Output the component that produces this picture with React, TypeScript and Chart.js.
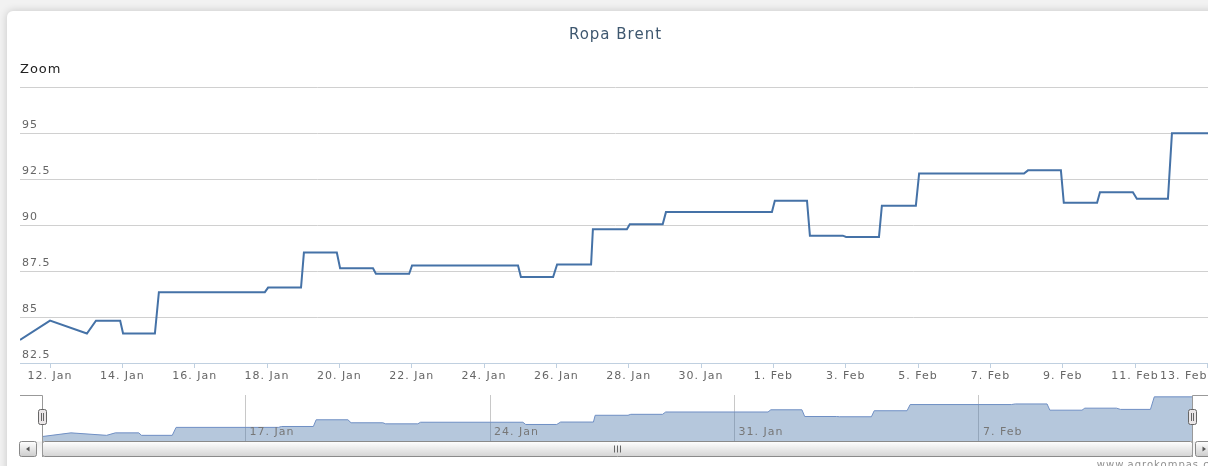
import React, { useEffect, useRef } from 'react';
import { Chart, registerables } from 'chart.js';

Chart.register(...registerables);

// Days counted from 12 Jan (00:00)
const dayOffsets = [-0.83, 0, 1.02, 1.27, 1.94, 2.02, 2.9, 3.01, 5.94, 6.03, 6.94, 7.02, 7.93, 8.02, 8.93, 9.01, 9.93, 10.01, 12.94, 13.02, 13.91, 14.02, 14.96, 15.01, 15.95, 16.03, 16.94, 17.03, 19.96, 20.04, 20.93, 21.01, 21.92, 22.01, 22.92, 23.0, 23.94, 24.03, 26.93, 27.04, 27.95, 28.03, 28.95, 29.03, 29.94, 30.05, 30.91, 31.02, 32.1];
const prices = [83.75, 84.8, 84.1, 84.8, 84.8, 84.1, 84.1, 86.35, 86.35, 86.6, 86.6, 88.5, 88.5, 87.65, 87.65, 87.35, 87.35, 87.8, 87.8, 87.17, 87.17, 87.86, 87.86, 89.77, 89.77, 90.04, 90.04, 90.7, 90.7, 91.32, 91.32, 89.42, 89.42, 89.35, 89.35, 91.05, 91.05, 92.8, 92.8, 92.97, 92.97, 91.21, 91.21, 91.78, 91.78, 91.43, 91.43, 94.98, 94.98];

const mainTickDays = [0, 2, 4, 6, 8, 10, 12, 14, 16, 18, 20, 22, 24, 26, 28, 30, 32];
const mainTickLabels = ['12. Jan', '14. Jan', '16. Jan', '18. Jan', '20. Jan', '22. Jan', '24. Jan', '26. Jan', '28. Jan', '30. Jan', '1. Feb', '3. Feb', '5. Feb', '7. Feb', '9. Feb', '11. Feb', '13. Feb'];
const navTickDays = [5, 12, 19, 26];
const navTickLabels = ['17. Jan', '24. Jan', '31. Jan', '7. Feb'];
const yTicks = [82.5, 85, 87.5, 90, 92.5, 95, 97.5];

const TITLE = 'Ropa Brent';
const ZOOM_LABEL = 'Zoom';
const CREDITS = 'www.agrokompas.cz';

const FONT = '"DejaVu Sans", Verdana, sans-serif';
const X_MIN = -0.83;
const X_MAX = 32.1;
const CW = 1230;
const NAV_TOP = 385;

function spacingPlugin(px: string) {
  return {
    id: 'spacing',
    beforeDraw(chart: any) {
      (chart.ctx as any).letterSpacing = px;
    },
  };
}

function roundRect(ctx: CanvasRenderingContext2D, x: number, y: number, w: number, h: number, r: number) {
  ctx.beginPath();
  ctx.moveTo(x + r, y);
  ctx.lineTo(x + w - r, y);
  ctx.arcTo(x + w, y, x + w, y + r, r);
  ctx.lineTo(x + w, y + h - r);
  ctx.arcTo(x + w, y + h, x + w - r, y + h, r);
  ctx.lineTo(x + r, y + h);
  ctx.arcTo(x, y + h, x, y + h - r, r);
  ctx.lineTo(x, y + r);
  ctx.arcTo(x, y, x + r, y, r);
  ctx.closePath();
}

export default function App() {
  const mainRef = useRef<HTMLCanvasElement>(null);
  const navRef = useRef<HTMLCanvasElement>(null);

  useEffect(() => {
    const points = dayOffsets.map((d, i) => ({ x: d, y: prices[i] }));

    const zoomPlugin = {
      id: 'zoomLabel',
      afterDraw(chart: any) {
        const ctx = chart.ctx as CanvasRenderingContext2D;
        ctx.save();
        (ctx as any).letterSpacing = '1px';
        ctx.font = `13px ${FONT}`;
        ctx.fillStyle = '#222';
        ctx.textAlign = 'left';
        ctx.textBaseline = 'middle';
        ctx.fillText(ZOOM_LABEL, 20, 70);
        ctx.restore();
      },
    };

    const main = new Chart(mainRef.current!, {
      type: 'line',
      data: {
        datasets: [
          {
            data: points,
            borderColor: '#4572A7',
            borderWidth: 2,
            pointRadius: 0,
            tension: 0,
            fill: false,
          },
        ],
      },
      options: {
        animation: false,
        responsive: false,
        events: [],
        layout: { padding: { left: 20, right: CW - 1211, top: 0, bottom: 7 } },
        plugins: {
          legend: { display: false },
          tooltip: { enabled: false },
          title: {
            display: true,
            text: TITLE,
            color: '#3E576F',
            font: { family: FONT, size: 15, weight: 'normal', lineHeight: 1.2 },
            padding: { top: 26, bottom: 87 - 26 - 18 },
          },
        },
        scales: {
          x: {
            type: 'linear',
            min: X_MIN,
            max: X_MAX,
            afterBuildTicks: (s: any) => {
              s.ticks = [{ value: X_MIN }, ...mainTickDays.map((v) => ({ value: v }))];
            },
            afterFit: (s: any) => {
              s.height = 20;
            },
            border: { display: true, color: '#C0D0E0', width: 1 },
            grid: {
              drawOnChartArea: false,
              drawTicks: true,
              tickLength: 5,
              tickColor: (c: any) => (c.index === 0 ? 'rgba(0,0,0,0)' : '#C0D0E0'),
            },
            ticks: {
              autoSkip: false,
              maxRotation: 0,
              align: 'inner',
              padding: 2,
              color: '#666',
              font: { family: FONT, size: 11 },
              callback: (_v: any, i: number) => (i === 0 ? '' : mainTickLabels[i - 1]),
            },
          },
          y: {
            min: 82.5,
            max: 97.5,
            afterBuildTicks: (s: any) => {
              s.ticks = yTicks.map((v) => ({ value: v }));
            },
            afterFit: (s: any) => {
              s.width = 0;
            },
            border: { display: false },
            grid: {
              drawTicks: false,
              color: (c: any) => (c.tick && c.tick.value === 82.5 ? 'rgba(0,0,0,0)' : '#D0D0D0'),
            },
            ticks: {
              mirror: true,
              padding: 2,
              labelOffset: -8,
              color: '#666',
              font: { family: FONT, size: 11 },
              callback: (v: any) => (v === 97.5 ? '' : String(v)),
            },
          },
        },
      },
      plugins: [spacingPlugin('1px'), zoomPlugin],
    } as any);

    const navDecor = {
      id: 'navDecor',
      afterDatasetsDraw(chart: any) {
        // navigator x-axis labels, placed through the library's x scale
        const ctx = chart.ctx as CanvasRenderingContext2D;
        const xs = chart.scales.x;
        ctx.save();
        (ctx as any).letterSpacing = '1px';
        ctx.font = `11px ${FONT}`;
        ctx.fillStyle = '#777';
        ctx.textAlign = 'left';
        ctx.textBaseline = 'middle';
        navTickDays.forEach((d, i) => {
          ctx.fillText(navTickLabels[i], xs.getPixelForValue(d) + 4, 432 - NAV_TOP);
        });
        ctx.restore();
      },
      afterDraw(chart: any) {
        const ctx = chart.ctx as CanvasRenderingContext2D;
        const oy = NAV_TOP;
        const left = 42;
        const right = 1192;
        const sbTop = 441.5 - oy;
        const sbH = 15;
        ctx.save();
        (ctx as any).letterSpacing = '0px';

        // scrollbar track
        let g = ctx.createLinearGradient(0, sbTop, 0, sbTop + sbH);
        g.addColorStop(0, '#EEE');
        g.addColorStop(1, '#FFF');
        ctx.fillStyle = g;
        ctx.fillRect(20, sbTop, CW - 20, sbH);

        const drawButton = (x: number, dir: number) => {
          const bg = ctx.createLinearGradient(0, sbTop, 0, sbTop + sbH);
          bg.addColorStop(0, '#FFF');
          bg.addColorStop(1, '#CCC');
          roundRect(ctx, x + 0.5, sbTop, 17, sbH, 2);
          ctx.fillStyle = bg;
          ctx.fill();
          ctx.strokeStyle = '#888';
          ctx.lineWidth = 1;
          ctx.stroke();
          const cx = x + 9;
          const cy = sbTop + sbH / 2;
          ctx.beginPath();
          ctx.moveTo(cx - 2 * dir, cy);
          ctx.lineTo(cx + 1.5 * dir, cy - 2.5);
          ctx.lineTo(cx + 1.5 * dir, cy + 2.5);
          ctx.closePath();
          ctx.fillStyle = '#555';
          ctx.fill();
        };
        drawButton(19, 1);
        drawButton(1195, -1);

        // thumb
        g = ctx.createLinearGradient(0, sbTop, 0, sbTop + sbH);
        g.addColorStop(0, '#FFF');
        g.addColorStop(1, '#D4D4D4');
        roundRect(ctx, left + 0.5, sbTop, right - left, sbH, 2);
        ctx.fillStyle = g;
        ctx.fill();
        ctx.strokeStyle = '#8a8a8a';
        ctx.stroke();

        // rifles
        const mid = Math.round((left + right) / 2);
        ctx.strokeStyle = '#666';
        ctx.beginPath();
        for (const dx of [-3, 0, 3]) {
          ctx.moveTo(mid + dx + 0.5, sbTop + 4);
          ctx.lineTo(mid + dx + 0.5, sbTop + 11);
        }
        ctx.stroke();

        // outline
        ctx.strokeStyle = '#999';
        ctx.beginPath();
        ctx.moveTo(20, 395.5 - oy);
        ctx.lineTo(left + 0.5, 395.5 - oy);
        ctx.lineTo(left + 0.5, 457 - oy);
        ctx.moveTo(right + 0.5, 457 - oy);
        ctx.lineTo(right + 0.5, 395.5 - oy);
        ctx.lineTo(CW, 395.5 - oy);
        ctx.stroke();

        // handles
        for (const hx of [left, right]) {
          roundRect(ctx, hx - 3.5, 409.5 - oy, 8, 15, 2);
          ctx.fillStyle = '#EBE7E8';
          ctx.fill();
          ctx.strokeStyle = '#666';
          ctx.stroke();
          ctx.beginPath();
          ctx.moveTo(hx - 1 + 0.5, 413 - oy);
          ctx.lineTo(hx - 1 + 0.5, 421 - oy);
          ctx.moveTo(hx + 1 + 0.5, 413 - oy);
          ctx.lineTo(hx + 1 + 0.5, 421 - oy);
          ctx.stroke();
        }

        // credits
        (ctx as any).letterSpacing = '1px';
        ctx.font = `10px ${FONT}`;
        ctx.fillStyle = '#909090';
        ctx.textAlign = 'right';
        ctx.textBaseline = 'alphabetic';
        ctx.fillText(CREDITS, 1216, 467.5 - oy);
        ctx.restore();
      },
    };

    const nav = new Chart(navRef.current!, {
      type: 'line',
      data: {
        datasets: [
          {
            data: points,
            borderColor: '#6F8FC4',
            borderWidth: 1,
            backgroundColor: 'rgba(69,114,167,0.4)',
            fill: 'start',
            pointRadius: 0,
            tension: 0,
          },
        ],
      },
      options: {
        animation: false,
        responsive: false,
        events: [],
        layout: { padding: { left: 42, right: CW - 1192, top: 395 - NAV_TOP, bottom: 466 - 441 } },
        plugins: { legend: { display: false }, tooltip: { enabled: false }, title: { display: false } },
        scales: {
          x: {
            type: 'linear',
            min: X_MIN,
            max: X_MAX,
            afterBuildTicks: (s: any) => {
              s.ticks = navTickDays.map((v) => ({ value: v }));
            },
            afterFit: (s: any) => {
              s.height = 0;
            },
            border: { display: false },
            grid: { drawTicks: false, color: '#C8C8C8' },
            ticks: { display: false },
          },
          y: { display: false, min: 82.5, max: 95.5 },
        },
      },
      plugins: [spacingPlugin('1px'), navDecor],
    } as any);

    return () => {
      main.destroy();
      nav.destroy();
    };
  }, []);

  return (
    <div
      style={{
        position: 'fixed',
        left: 0,
        top: 0,
        width: 1208,
        height: 466,
        overflow: 'hidden',
        background: '#F2F2F2',
      }}
    >
      <div
        style={{
          position: 'absolute',
          left: 7,
          top: 11,
          width: 1218,
          height: 500,
          background: '#FFFFFF',
          borderRadius: 6,
          boxShadow: '0 0 8px rgba(0,0,0,0.18)',
        }}
      />
      <canvas
        ref={mainRef}
        width={CW}
        height={390}
        style={{ position: 'absolute', left: 0, top: 0, width: CW, height: 390 }}
      />
      <canvas
        ref={navRef}
        width={CW}
        height={466 - NAV_TOP}
        style={{ position: 'absolute', left: 0, top: NAV_TOP, width: CW, height: 466 - NAV_TOP }}
      />
    </div>
  );
}
